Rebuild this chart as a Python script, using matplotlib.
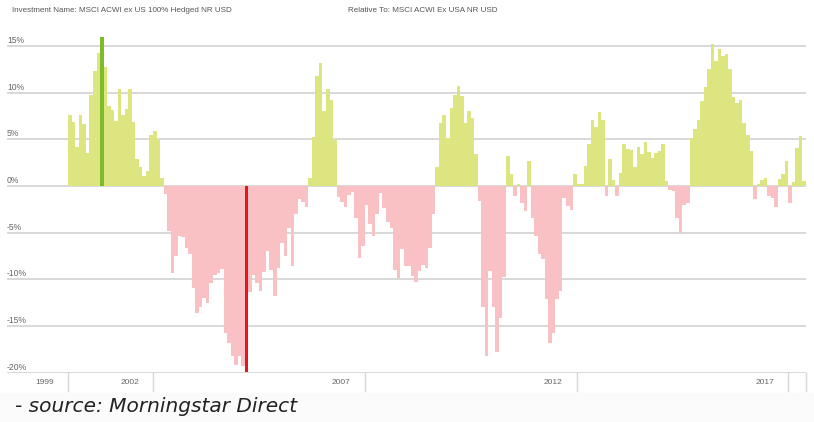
import numpy as np
import matplotlib.pyplot as plt
from matplotlib.patches import Rectangle
from matplotlib.transforms import blended_transform_factory

# rolling relative return vs MSCI ACWI ex USA, monthly from Jan 2000 (%)
excess = [
    7.6, 6.9, 4.2, 7.6, 6.6, 3.5, 9.8, 12.3, 14.3, 16.0, 12.7, 8.6, 8.1, 7.0,
    10.4, 7.6, 8.3, 10.4, 6.9, 2.9, 2.0, 1.1, 1.6, 5.5, 5.9, 4.9, 0.9,
    -0.9, -4.8, -9.3, -7.5, -5.4, -5.5, -6.6, -7.3, -10.9, -13.6, -13.0, -12.0,
    -12.5, -10.4, -9.5, -9.3, -8.9, -15.7, -16.8, -18.2, -19.2, -18.2, -19.3, -19.9,
    -11.4, -9.5, -10.4, -11.2, -9.2, -7.0, -9.0, -11.8, -8.8, -6.1, -7.5, -4.5,
    -8.6, -3.0, -1.4, -1.7, -2.3,
    0.9, 5.3, 11.8, 13.2, 8.0, 10.4, 9.2, 4.9,
    -1.2, -1.7, -2.2, -1.0, -0.6, -3.4, -7.7, -6.4, -2.0, -4.1, -5.4, -3.0, -0.7,
    -2.4, -3.9, -4.5, -9.0, -9.9, -6.8, -8.6, -8.6, -9.6, -10.3, -9.1, -8.5, -8.8,
    -6.6, -3.0,
    2.0, 6.8, 7.6, 5.1, 8.4, 9.8, 10.7, 9.6, 6.7, 8.0, 7.3, 3.4,
    -1.6, -13.0, -18.2, -9.1, -13.0, -17.8, -14.1, -9.7,
    3.2, 1.25, -1.1, 0.2, -1.8, -2.7, 2.7,
    -3.4, -5.4, -7.3, -7.8, -12.1, -16.8, -15.7, -12.1, -11.3,
    -1.3, -2.1, -2.6,
    1.25, 0.2, 0.2, 2.1, 4.5, 7.1, 6.3, 7.9, 7.1, -1.1, 2.9, 0.6, -1.1, 1.4, 4.5,
    4.0, 3.9, 2.0, 4.2, 3.4, 4.7, 3.6, 3.0, 3.5, 3.75, 4.5, 0.5,
    -0.4, -0.5, -3.4, -5.0, -2.0, -1.8,
    5.1, 6.1, 7.1, 9.1, 10.6, 12.5, 15.2, 13.4, 14.7, 13.9, 14.1, 12.5, 9.5, 8.9,
    9.2, 6.7, 5.5, 3.75,
    -1.4, 0.2, 0.6, 0.9, -1.1, -1.25, -2.3, 0.8, 1.25, 2.7, -1.8, 0.4, 4.1, 5.4, 0.5,
]

year_labels = ['1999', '2002', '2007', '2012', '2017']
year_breaks = [0, 24, 84, 144, 204]   # month index of each band edge
y_ticks = [15, 10, 5, 0, -5, -10, -15, -20]

W, H = 814, 422
fig = plt.figure(figsize=(W / 100, H / 100), dpi=100)
fig.patch.set_facecolor('white')
fig.patches.append(Rectangle((0, 0), 1, (H - 393) / H, transform=fig.transFigure,
                             color='#fbfbfb', zorder=0))

ax = fig.add_axes([7 / W, (H - 372.7) / H, (806 - 7) / W, 337.9 / H])
ax.set_xlim(-17.87, len(excess) - 0.5)
ax.set_ylim(-20, 16.2)
ax.axis('off')

vals = np.array(excess)
x = np.arange(len(vals))
colors = np.where(vals >= 0, '#dce57f', '#f9c1c3').astype(object)
colors[np.argmax(vals)] = '#7cbb2a'
colors[np.argmin(vals)] = '#e8141b'
ax.bar(x, vals, width=1.0, color=list(colors), linewidth=0, zorder=2)

# gridlines and y labels
ylab = blended_transform_factory(ax.transAxes, ax.transData)
for t in y_ticks:
    ax.axhline(t, color='#d6d6d6', lw=1.3, zorder=1)
    ax.text(0, t + 0.12, f'{t}%', transform=ylab, ha='left', va='bottom',
            fontsize=6.2, color='#666666', family='Liberation Sans')

# year band under the axis
xb = blended_transform_factory(ax.transData, ax.transAxes)
for b in year_breaks + [len(vals)]:
    ax.plot([b - 0.5, b - 0.5], [0, -0.055], transform=xb, color='#d6d6d6',
            lw=1, clip_on=False)
for b, lab in zip(year_breaks, year_labels):
    ax.text(b - 0.5 - 4.0, -0.028, lab, transform=xb, ha='right', va='center',
            fontsize=6, color='#666666', family='Liberation Sans')

fig.text(12 / W, 1 - 10.7 / H, 'Investment Name: MSCI ACWI ex US 100% Hedged NR USD',
         fontsize=5.8, color='#555555', va='center', family='Liberation Sans')
fig.text(348 / W, 1 - 10.7 / H, 'Relative To: MSCI ACWI Ex USA NR USD',
         fontsize=5.8, color='#555555', va='center', family='Liberation Sans')
fig.text(15 / W, 1 - 407 / H, '- source: Morningstar Direct', fontsize=14.5,
         style='italic', color='#222222', va='center')

fig.savefig('out.png', dpi=100)
